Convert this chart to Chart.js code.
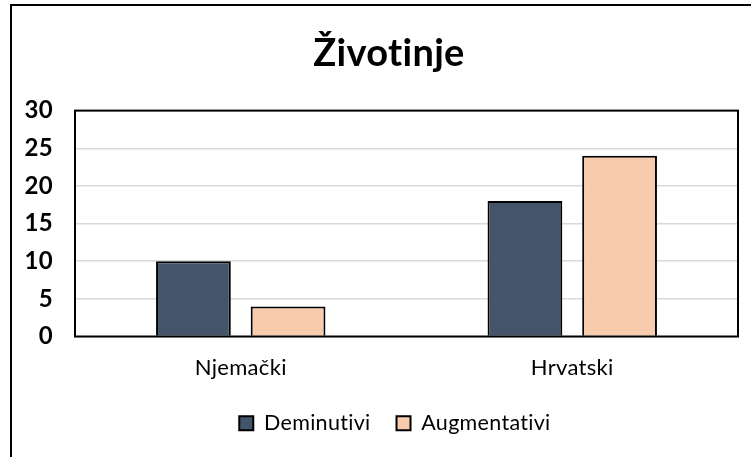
<!DOCTYPE html>
<html>
<head>
<meta charset="utf-8">
<script src="https://cdn.jsdelivr.net/npm/chart.js@4.4.1/dist/chart.umd.min.js"></script>
<style>
  html, body { margin: 0; padding: 0; background: #fff; }
  #wrap { width: 756px; height: 457px; }
</style>
</head>
<body>
<div id="wrap"><canvas id="c" width="756" height="457"></canvas></div>
<script>
const chartTitle = "Životinje";
const categories = ["Njemački", "Hrvatski"];
const seriesNames = ["Deminutivi", "Augmentativi"];
const deminutivi = [10, 18];
const augmentativi = [4, 24];
const yTicks = [0, 5, 10, 15, 20, 25, 30];

const FONT = "Lato, 'Open Sans', sans-serif";

const framePlugin = {
  id: 'frame',
  beforeInit(chart) { chart.ctx.letterSpacing = '0.3px'; },
  afterLayout(chart) {
    if (chart.legend) { chart.legend.left += 17; chart.legend.right += 17; }
    if (chart.titleBlock) { chart.titleBlock.left += 14; chart.titleBlock.right += 14; }
  },
  beforeDraw(chart) {
    const ctx = chart.ctx;
    ctx.save();
    ctx.fillStyle = '#fff';
    ctx.fillRect(0, 0, chart.width, chart.height);
    ctx.strokeStyle = '#000';
    ctx.lineWidth = 2;
    ctx.beginPath();
    ctx.moveTo(11, chart.height);
    ctx.lineTo(11, 5);
    ctx.lineTo(751, 5);
    ctx.stroke();
    ctx.restore();
    ctx.letterSpacing = '0.3px';
  },
  afterDatasetsDraw(chart) {
    const a = chart.chartArea;
    const ctx = chart.ctx;
    ctx.save();
    ctx.strokeStyle = '#000';
    ctx.lineWidth = 2;
    ctx.strokeRect(a.left, a.top, a.right - a.left, a.bottom - a.top);
    ctx.restore();
  }
};

new Chart(document.getElementById('c'), {
  type: 'bar',
  data: {
    labels: categories,
    datasets: [
      { label: seriesNames[0], data: deminutivi, backgroundColor: '#44546A', borderColor: '#000', borderWidth: 2 },
      { label: seriesNames[1], data: augmentativi, backgroundColor: '#F8CBAD', borderColor: '#000', borderWidth: 2 }
    ]
  },
  options: {
    responsive: false,
    animation: false,
    devicePixelRatio: 1,
    layout: { padding: { top: 8, left: 12, right: 18, bottom: 13 } },
    datasets: { bar: { categoryPercentage: 0.571, barPercentage: 0.79 } },
    plugins: {
      title: {
        display: true, text: chartTitle, color: '#000',
        font: { family: FONT, size: 38, weight: 'bold' },
        padding: { top: 23, bottom: 34 }
      },
      legend: {
        position: 'bottom',
        labels: {
          color: '#000', boxWidth: 14, boxHeight: 14, padding: 26,
          font: { family: FONT, size: 21.5 }
        }
      },
      tooltip: { enabled: false }
    },
    scales: {
      x: {
        afterFit(scale) { scale.height = 50; },
        grid: { display: false },
        border: { display: false },
        ticks: { color: '#000', padding: 10, font: { family: FONT, size: 22 } }
      },
      y: {
        min: 0, max: 30,
        afterBuildTicks(scale) { scale.ticks = yTicks.map(v => ({ value: v })); },
        afterFit(scale) { scale.width = 63; },
        grid: { color: '#d9d9d9', lineWidth: 1.5, drawTicks: false },
        border: { display: false },
        ticks: { color: '#000', padding: 22, font: { family: FONT, size: 24, weight: 'bold' } }
      }
    }
  },
  plugins: [framePlugin]
});
</script>
</body>
</html>
